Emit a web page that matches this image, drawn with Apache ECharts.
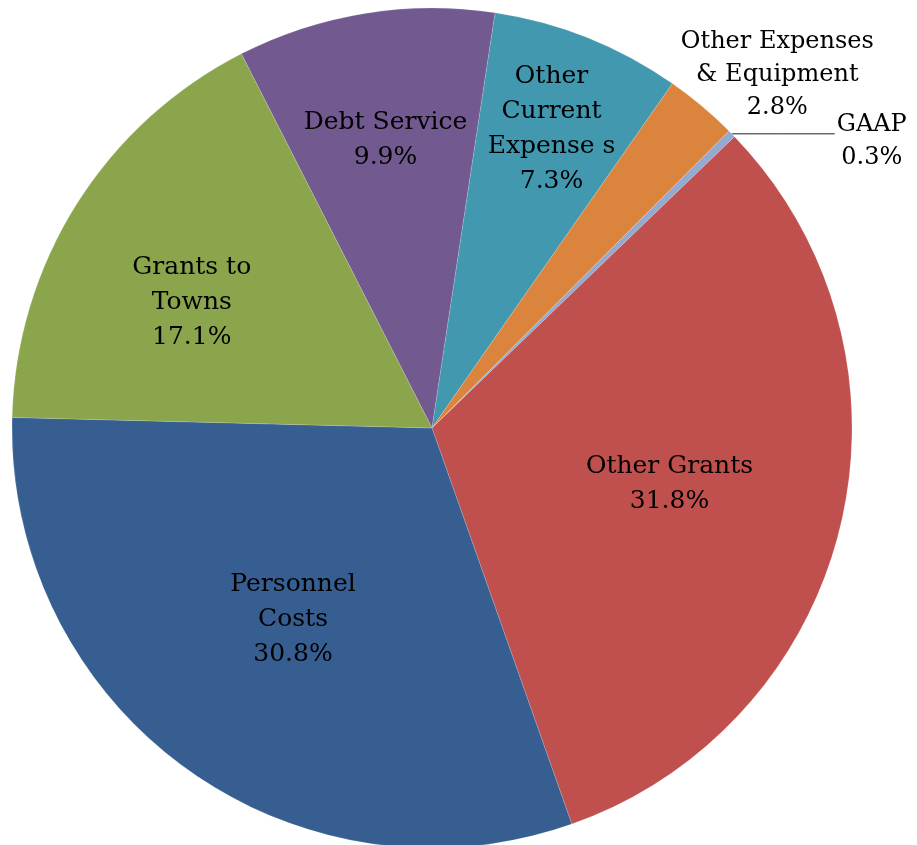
<!DOCTYPE html>
<html><head><meta charset="utf-8">
<script src="https://cdn.jsdelivr.net/npm/echarts@6/dist/echarts.min.js"></script>
<style>html,body{margin:0;padding:0;background:#fff}#c{width:917px;height:845px}</style>
</head><body><div id="c"></div>
<script>
// ---- data ----
const categories = ['Debt Service', 'Other\nCurrent\nExpense s', 'Other Expenses\n& Equipment', 'GAAP', 'Other Grants', 'Personnel\nCosts', 'Grants to\nTowns'];
const shares = [9.9, 7.3, 2.8, 0.3, 31.8, 30.8, 17.1];
const sliceColors = ['#72598F', '#4198AF', '#DB843D', '#94AAD0', '#C0504D', '#375E90', '#8BA54D'];

// ---- geometry / layout ----
const CX = 432, CY = 428, R = 420, START = 117;
const total = shares.reduce((a, b) => a + b, 0);
const mids = [];
let acc = 0;
shares.forEach(v => { mids.push((90 - START) + (acc + v / 2) / total * 360); acc += v; });
// radial fraction and angular nudge for each label
const place = [{f: 0.694}, {f: 0.767}, {f: 1.176, da: 4.4}, {line: true}, {f: 0.581}, {f: 0.563}, {f: 0.645, da: -4.7}];
function pt(deg, r) { const a = deg * Math.PI / 180; return [CX + r * Math.sin(a), CY - r * Math.cos(a)]; }

const chart = echarts.init(document.getElementById('c'));
chart.setOption({
  animation: false,
  backgroundColor: '#fff',
  series: [{
    type: 'pie',
    center: [CX, CY],
    radius: [0, R],
    startAngle: START,
    clockwise: true,
    avoidLabelOverlap: false,
    emphasis: {disabled: true},
    itemStyle: {borderColor: 'rgba(255,255,255,0.5)', borderWidth: 0.3},
    label: {
      show: true,
      position: 'inside',
      color: '#000',
      fontFamily: 'DejaVu Serif',
      fontSize: 25,
      lineHeight: 35,
      formatter: p => p.name + '\n' + p.value.toFixed(1) + '%'
    },
    labelLine: {show: false},
    labelLayout: function (p) {
      const i = p.dataIndex, pl = place[i];
      if (pl.line) {
        const e = pt(mids[i], R);
        const end = [e[0] + 103, e[1]];
        return {x: end[0] + 37, y: e[1] + 7, align: 'center', verticalAlign: 'middle',
                labelLinePoints: [e, [e[0] + 50, e[1]], end]};
      }
      const q = pt(mids[i] + (pl.da || 0), pl.f * R);
      return {x: q[0], y: q[1], align: 'center', verticalAlign: 'middle'};
    },
    data: categories.map((c, i) => {
      const d = {name: c, value: shares[i], itemStyle: {color: sliceColors[i]}};
      if (i === 2) d.label = {position: 'outside', lineHeight: 33, fontSize: 24};
      if (i === 3) { d.label = {position: 'outside', lineHeight: 33, fontSize: 24}; d.labelLine = {show: true, lineStyle: {color: '#222', width: 1}}; }
      return d;
    })
  }]
});
</script>
</body></html>
